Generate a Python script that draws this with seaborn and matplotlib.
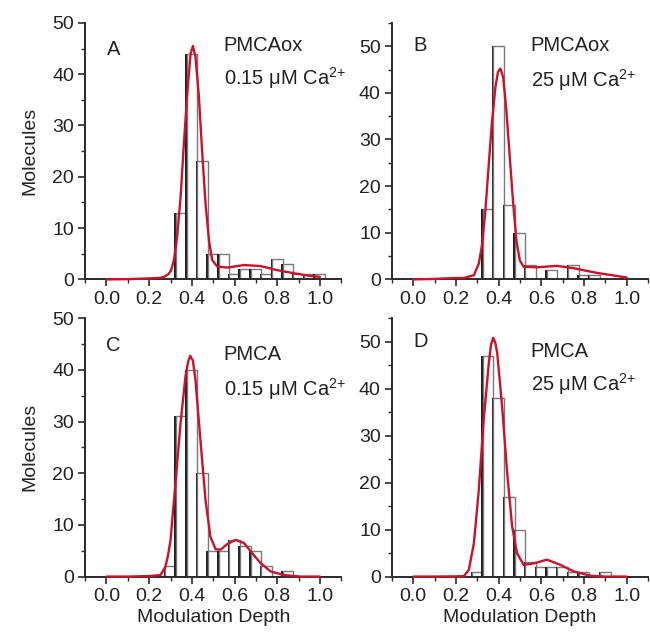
import numpy as np
import pandas as pd
import matplotlib
matplotlib.use('Agg')
import matplotlib.pyplot as plt
import matplotlib.patheffects as pe
from matplotlib.ticker import MultipleLocator, FormatStrFormatter
import seaborn as sns

# histogram bin centres (modulation depth) and counts per panel
depth = [0.30, 0.35, 0.40, 0.45, 0.50, 0.55, 0.60, 0.65, 0.70, 0.75, 0.80, 0.85, 0.90, 0.95, 1.00]
counts_a = [0, 13, 44, 23, 5, 5, 1, 2, 2, 1, 4, 3, 1, 1, 1]
counts_b = [0, 15, 50, 16, 10, 3, 0, 2, 0, 3, 1, 1, 0, 0, 0]
counts_c = [2, 31, 40, 20, 5, 5, 7, 6, 5, 2, 0, 1, 0, 0, 0]
counts_d = [1, 47, 38, 17, 10, 3, 2, 2, 2, 1, 1, 0, 1, 0, 0]

# fitted curves
fit_a_x = [0.0, 0.1, 0.2, 0.25, 0.27, 0.29, 0.303, 0.316, 0.331, 0.347, 0.362, 0.378, 0.394, 0.405,
           0.417, 0.433, 0.448, 0.464, 0.480, 0.495, 0.519, 0.566, 0.644, 0.722, 0.80, 0.878, 0.95, 1.0]
fit_a_y = [0, 0.05, 0.2, 0.3, 0.5, 1.0, 1.8, 3.8, 8.3, 16, 26, 36, 44, 45.5,
           43.4, 35.6, 25, 14.8, 7.7, 3.8, 2.5, 2.3, 2.8, 2.6, 1.8, 1.2, 0.7, 0.5]
fit_b_x = [0.0, 0.1, 0.2, 0.237, 0.284, 0.307, 0.323, 0.338, 0.354, 0.369, 0.385, 0.397, 0.408,
           0.421, 0.436, 0.452, 0.468, 0.483, 0.499, 0.517, 0.58, 0.673, 0.751, 0.86, 1.0]
fit_b_y = [0, 0.1, 0.3, 0.3, 0.9, 3.4, 7.7, 14.9, 24.9, 34, 41.3, 44.5, 45.2,
           43.4, 36.3, 26.3, 16.3, 8.4, 4.1, 2.7, 2.6, 2.9, 2.4, 1.4, 0.4]
fit_c_x = [0.0, 0.1, 0.2, 0.253, 0.276, 0.288, 0.30, 0.323, 0.347, 0.37, 0.382, 0.392, 0.405, 0.417,
           0.44, 0.464, 0.487, 0.511, 0.534, 0.566, 0.605, 0.644, 0.683, 0.722, 0.769, 0.831, 0.909, 1.0]
fit_c_y = [0, 0, 0.1, 0.3, 1.9, 4.0, 7.1, 18, 29.7, 38.7, 41.5, 42.7, 41.8, 38,
           26.5, 14.8, 7.7, 5.3, 5.2, 6.3, 7.1, 6.5, 4.5, 2.6, 1.0, 0.3, 0, 0]
fit_d_x = [0.0, 0.1, 0.2, 0.237, 0.26, 0.284, 0.307, 0.33, 0.354, 0.364, 0.374, 0.384, 0.393, 0.416,
           0.44, 0.463, 0.486, 0.517, 0.564, 0.626, 0.689, 0.751, 0.829, 0.9, 1.0]
fit_d_y = [0, 0, 0.05, 0.1, 1.4, 7.1, 18.5, 33.4, 45.5, 49.3, 50.8, 49.8, 47.7, 36.3,
           22, 10.7, 5, 2.5, 2.8, 3.6, 2.5, 1.1, 0.2, 0, 0]

letters = ['A', 'B', 'C', 'D']
proteins = ['PMCAox', 'PMCAox', 'PMCA', 'PMCA']
calcium = ['0.15 $\\mu$M Ca$^{2{+}}$', '25 $\\mu$M Ca$^{2{+}}$', '0.15 $\\mu$M Ca$^{2{+}}$', '25 $\\mu$M Ca$^{2{+}}$']
y_max = [50, 55, 50, 55]

sns.set_style('ticks')
plt.rcParams['font.family'] = ['Liberation Sans', 'DejaVu Sans']
plt.rcParams['mathtext.fontset'] = 'custom'
plt.rcParams['mathtext.rm'] = 'Liberation Sans'
plt.rcParams['mathtext.it'] = 'Liberation Sans:italic'
plt.rcParams['mathtext.default'] = 'regular'

red = '#c8142a'
dark = '#2a2a2a'

fig = plt.figure(figsize=(6.5, 6.35), dpi=100)
rects = [[0.131, 0.560, 0.394, 0.404], [0.603, 0.560, 0.394, 0.404],
         [0.131, 0.092, 0.394, 0.407], [0.603, 0.092, 0.394, 0.407]]
all_counts = [counts_a, counts_b, counts_c, counts_d]
fits = [(fit_a_x, fit_a_y), (fit_b_x, fit_b_y), (fit_c_x, fit_c_y), (fit_d_x, fit_d_y)]
text_y = [(44.9, 45.5, 39.2), (50.2, 50.2, 42.7), (44.8, 42.9, 36.3), (50.0, 47.9, 40.9)]

for i in range(4):
    ax = fig.add_axes(rects[i])
    hist_df = pd.DataFrame({'depth': depth, 'count': all_counts[i]})
    sns.histplot(data=hist_df, x='depth', weights='count', binwidth=0.05, binrange=(0.275, 1.025),
                 color='white', edgecolor='#7a7a7a', linewidth=1.0, alpha=1, ax=ax)
    for p in ax.patches:
        p.set_path_effects([pe.SimplePatchShadow(offset=(-1.0, 0), shadow_rgbFace='#111111', alpha=0.95),
                            pe.Normal()])
    fx, fy = fits[i]
    sns.lineplot(x=fx, y=fy, color=red, linewidth=1.7, ax=ax, zorder=5, clip_on=False)

    ax.set_xlim(-0.1, 1.1)
    ax.set_ylim(0, y_max[i])
    ax.xaxis.set_major_locator(MultipleLocator(0.2))
    ax.xaxis.set_minor_locator(MultipleLocator(0.1))
    ax.yaxis.set_major_locator(MultipleLocator(10))
    ax.yaxis.set_minor_locator(MultipleLocator(5))
    ax.xaxis.set_major_formatter(FormatStrFormatter('%.1f'))
    sns.despine(ax=ax)
    for s in ['left', 'bottom']:
        ax.spines[s].set_color(dark)
        ax.spines[s].set_linewidth(1.4)
    ax.tick_params(which='major', direction='out', length=5, width=1.2, color=dark,
                   labelsize=14, labelcolor='#222222', pad=3)
    ax.tick_params(which='minor', direction='out', length=3, width=1.0, color=dark)

    ly, py, cy = text_y[i]
    ax.text(0.0, ly, letters[i], fontsize=14.5, va='center', ha='left', color='#222222')
    ax.text(0.55, py, proteins[i], fontsize=14.5, va='center', ha='left', color='#222222')
    ax.text(0.55, cy, calcium[i], fontsize=14.5, va='center', ha='left', color='#222222')

    ax.set_ylabel('Molecules' if i % 2 == 0 else '', fontsize=14, color='#222222', labelpad=10)
    ax.set_xlabel('Modulation Depth' if i >= 2 else '', fontsize=14, color='#222222', labelpad=3)

plt.savefig('out.png', dpi=100)
plt.close()
